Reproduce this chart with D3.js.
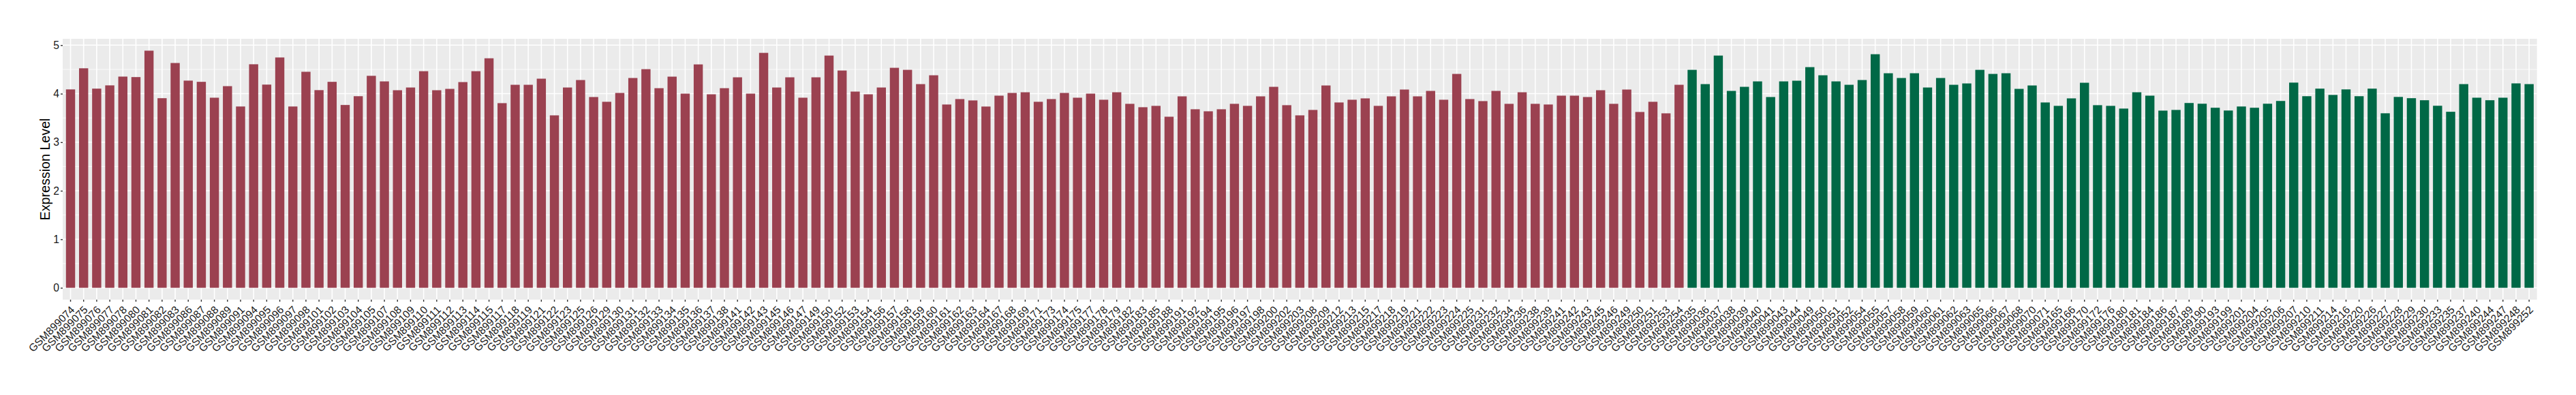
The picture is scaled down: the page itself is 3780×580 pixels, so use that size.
<!DOCTYPE html>
<html>
<head>
<meta charset="utf-8">
<script src="https://cdn.jsdelivr.net/npm/d3@7"></script>
<style>
  html, body { margin: 0; padding: 0; background: #ffffff; }
  svg { display: block; }
</style>
</head>
<body>
<div id="chart"></div>
<script>
// ---- Data ----
const group1Samples = ["GSM899074","GSM899075","GSM899076","GSM899077","GSM899078","GSM899080","GSM899081","GSM899082","GSM899083","GSM899086",
"GSM899087","GSM899088","GSM899089","GSM899091","GSM899094","GSM899095","GSM899096","GSM899097","GSM899098","GSM899101",
"GSM899102","GSM899103","GSM899104","GSM899105","GSM899107","GSM899108","GSM899109","GSM899110","GSM899111","GSM899112",
"GSM899113","GSM899114","GSM899115","GSM899117","GSM899118","GSM899119","GSM899121","GSM899122","GSM899123","GSM899125",
"GSM899126","GSM899129","GSM899130","GSM899131","GSM899132","GSM899133","GSM899134","GSM899135","GSM899136","GSM899137",
"GSM899138","GSM899141","GSM899142","GSM899143","GSM899145","GSM899146","GSM899147","GSM899149","GSM899150","GSM899152",
"GSM899153","GSM899154","GSM899156","GSM899157","GSM899158","GSM899159","GSM899160","GSM899161","GSM899162","GSM899163",
"GSM899164","GSM899167","GSM899168","GSM899169","GSM899171","GSM899173","GSM899174","GSM899175","GSM899177","GSM899178",
"GSM899179","GSM899182","GSM899183","GSM899185","GSM899188","GSM899191","GSM899192","GSM899194","GSM899195","GSM899196",
"GSM899197","GSM899198","GSM899200","GSM899202","GSM899203","GSM899208","GSM899209","GSM899212","GSM899213","GSM899215",
"GSM899217","GSM899218","GSM899219","GSM899221","GSM899222","GSM899223","GSM899224","GSM899225","GSM899231","GSM899232",
"GSM899234","GSM899236","GSM899238","GSM899239","GSM899241","GSM899242","GSM899243","GSM899245","GSM899246","GSM899249",
"GSM899250","GSM899251","GSM899253","GSM899254"];
const group1Values = [4.088,4.523,4.104,4.171,4.352,4.342,4.886,3.907,4.632,4.269,
4.244,3.917,4.155,3.736,4.606,4.187,4.746,3.736,4.451,4.073,
4.244,3.767,3.948,4.368,4.253,4.071,4.127,4.463,4.071,4.099,
4.239,4.463,4.729,3.805,4.183,4.183,4.309,3.553,4.127,4.281,
3.931,3.833,4.015,4.323,4.505,4.113,4.351,4.001,4.603,3.987,
4.113,4.337,4.001,4.841,4.127,4.337,3.917,4.337,4.785,4.477,
4.043,3.987,4.127,4.533,4.491,4.197,4.379,3.777,3.889,3.861,
3.735,3.959,4.015,4.029,3.833,3.889,4.015,3.917,4.001,3.875,
4.029,3.791,3.721,3.749,3.525,3.945,3.679,3.637,3.679,3.791,
3.749,3.945,4.141,3.763,3.553,3.665,4.169,3.819,3.875,3.903,
3.749,3.945,4.085,3.945,4.057,3.875,4.407,3.889,3.847,4.057,
3.791,4.029,3.791,3.777,3.959,3.959,3.931,4.071,3.791,4.085,
3.623,3.833,3.595,4.183];

const group2Samples = ["GSM899035","GSM899036","GSM899037","GSM899038","GSM899039","GSM899040","GSM899041","GSM899043","GSM899044","GSM899049",
"GSM899050","GSM899051","GSM899052","GSM899054","GSM899055","GSM899057","GSM899058","GSM899059","GSM899060","GSM899061",
"GSM899062","GSM899063","GSM899065","GSM899066","GSM899067","GSM899068","GSM899070","GSM899071","GSM899165","GSM899166",
"GSM899170","GSM899172","GSM899176","GSM899180","GSM899181","GSM899184","GSM899186","GSM899187","GSM899189","GSM899190",
"GSM899193","GSM899199","GSM899201","GSM899204","GSM899205","GSM899206","GSM899207","GSM899210","GSM899211","GSM899214",
"GSM899216","GSM899220","GSM899226","GSM899227","GSM899228","GSM899229","GSM899230","GSM899233","GSM899235","GSM899237",
"GSM899240","GSM899244","GSM899247","GSM899248","GSM899252"];
const group2Values = [4.491,4.197,4.785,4.057,4.141,4.253,3.931,4.253,4.267,4.547,
4.379,4.253,4.183,4.281,4.813,4.421,4.323,4.421,4.127,4.323,
4.183,4.211,4.491,4.407,4.421,4.099,4.169,3.819,3.749,3.903,
4.225,3.763,3.749,3.693,4.029,3.959,3.651,3.665,3.808,3.793,
3.710,3.653,3.736,3.710,3.793,3.850,4.228,3.948,4.104,3.974,
4.088,3.948,4.104,3.596,3.933,3.907,3.865,3.751,3.627,4.197,
3.917,3.865,3.917,4.212,4.197];

const yTicks = [0, 1, 2, 3, 4, 5];
const yMinorTicks = [0.5, 1.5, 2.5, 3.5, 4.5];
const groupColors = ["#9B4150", "#006846"];
const yTitle = "Expression Level";

// ---- Build rows ----
const rows = [];
group1Samples.forEach((s, i) => rows.push({ sample: s, value: group1Values[i], group: 0 }));
group2Samples.forEach((s, i) => rows.push({ sample: s, value: group2Values[i], group: 1 }));

// ---- Layout ----
const W = 3780, H = 580;
const panel = { left: 92, right: 3722.7, top: 57, bottom: 440 };
const FONT = "'Liberation Sans', Arial, Helvetica, sans-serif";
const TEXT_COLOR = "#1A1A1A";

const svg = d3.select("#chart").append("svg")
  .attr("width", W).attr("height", H)
  .attr("viewBox", `0 0 ${W} ${H}`);

svg.append("rect").attr("width", W).attr("height", H).attr("fill", "#ffffff");

const x = d3.scaleBand()
  .domain(rows.map(d => d.sample))
  .range([panel.left, panel.right])
  .paddingInner(0.3)
  .paddingOuter(0.25);

const maxV = d3.max(rows, d => d.value);
const y = d3.scaleLinear()
  .domain([-0.05 * maxV, 1.05 * maxV])
  .range([panel.bottom, panel.top]);

// Panel background
svg.append("rect")
  .attr("x", panel.left).attr("y", panel.top)
  .attr("width", panel.right - panel.left)
  .attr("height", panel.bottom - panel.top)
  .attr("fill", "#EBEBEB");

const grid = svg.append("g");
// minor horizontal
grid.selectAll("line.minor").data(yMinorTicks).join("line")
  .attr("class", "minor")
  .attr("x1", panel.left).attr("x2", panel.right)
  .attr("y1", d => y(d)).attr("y2", d => y(d))
  .attr("stroke", "#ffffff").attr("stroke-width", 0.8);
// major horizontal
grid.selectAll("line.majory").data(yTicks).join("line")
  .attr("class", "majory")
  .attr("x1", panel.left).attr("x2", panel.right)
  .attr("y1", d => y(d)).attr("y2", d => y(d))
  .attr("stroke", "#ffffff").attr("stroke-width", 1.6);
// major vertical
grid.selectAll("line.majorx").data(rows).join("line")
  .attr("class", "majorx")
  .attr("x1", d => x(d.sample) + x.bandwidth() / 2)
  .attr("x2", d => x(d.sample) + x.bandwidth() / 2)
  .attr("y1", panel.top).attr("y2", panel.bottom)
  .attr("stroke", "#ffffff").attr("stroke-width", 1.6);

// Bars
svg.append("g").selectAll("rect").data(rows).join("rect")
  .attr("x", d => x(d.sample))
  .attr("width", x.bandwidth())
  .attr("y", d => y(d.value))
  .attr("height", d => y(0) - y(d.value))
  .attr("fill", d => groupColors[d.group]);

// Y axis
const yAxis = svg.append("g")
  .attr("transform", `translate(${panel.left},0)`)
  .call(d3.axisLeft(y).tickValues(yTicks).tickSize(3).tickPadding(2).tickFormat(d3.format("d")));
yAxis.select(".domain").remove();
yAxis.selectAll(".tick line").attr("stroke", "#333333").attr("stroke-width", 1.4);
yAxis.selectAll(".tick text")
  .attr("fill", TEXT_COLOR)
  .style("font-family", FONT)
  .style("font-size", "15.7px");

// X axis
const xAxis = svg.append("g")
  .attr("transform", `translate(0,${panel.bottom})`)
  .call(d3.axisBottom(x).tickSize(3).tickPadding(2));
xAxis.select(".domain").remove();
xAxis.selectAll(".tick line").attr("stroke", "#333333").attr("stroke-width", 1.4);
xAxis.selectAll(".tick text")
  .attr("fill", TEXT_COLOR)
  .style("font-family", FONT)
  .style("font-size", "15.6px")
  .attr("text-anchor", "end")
  .attr("x", 0).attr("y", 0).attr("dy", "0.72em")
  .attr("transform", "translate(-1,8) rotate(-45)");

// Y title
svg.append("text")
  .attr("transform", `translate(72.5,${(panel.top + panel.bottom) / 2}) rotate(-90)`)
  .attr("text-anchor", "middle")
  .style("font-family", FONT)
  .style("font-size", "19.7px")
  .attr("fill", "#000000")
  .text(yTitle);
</script>
</body>
</html>
